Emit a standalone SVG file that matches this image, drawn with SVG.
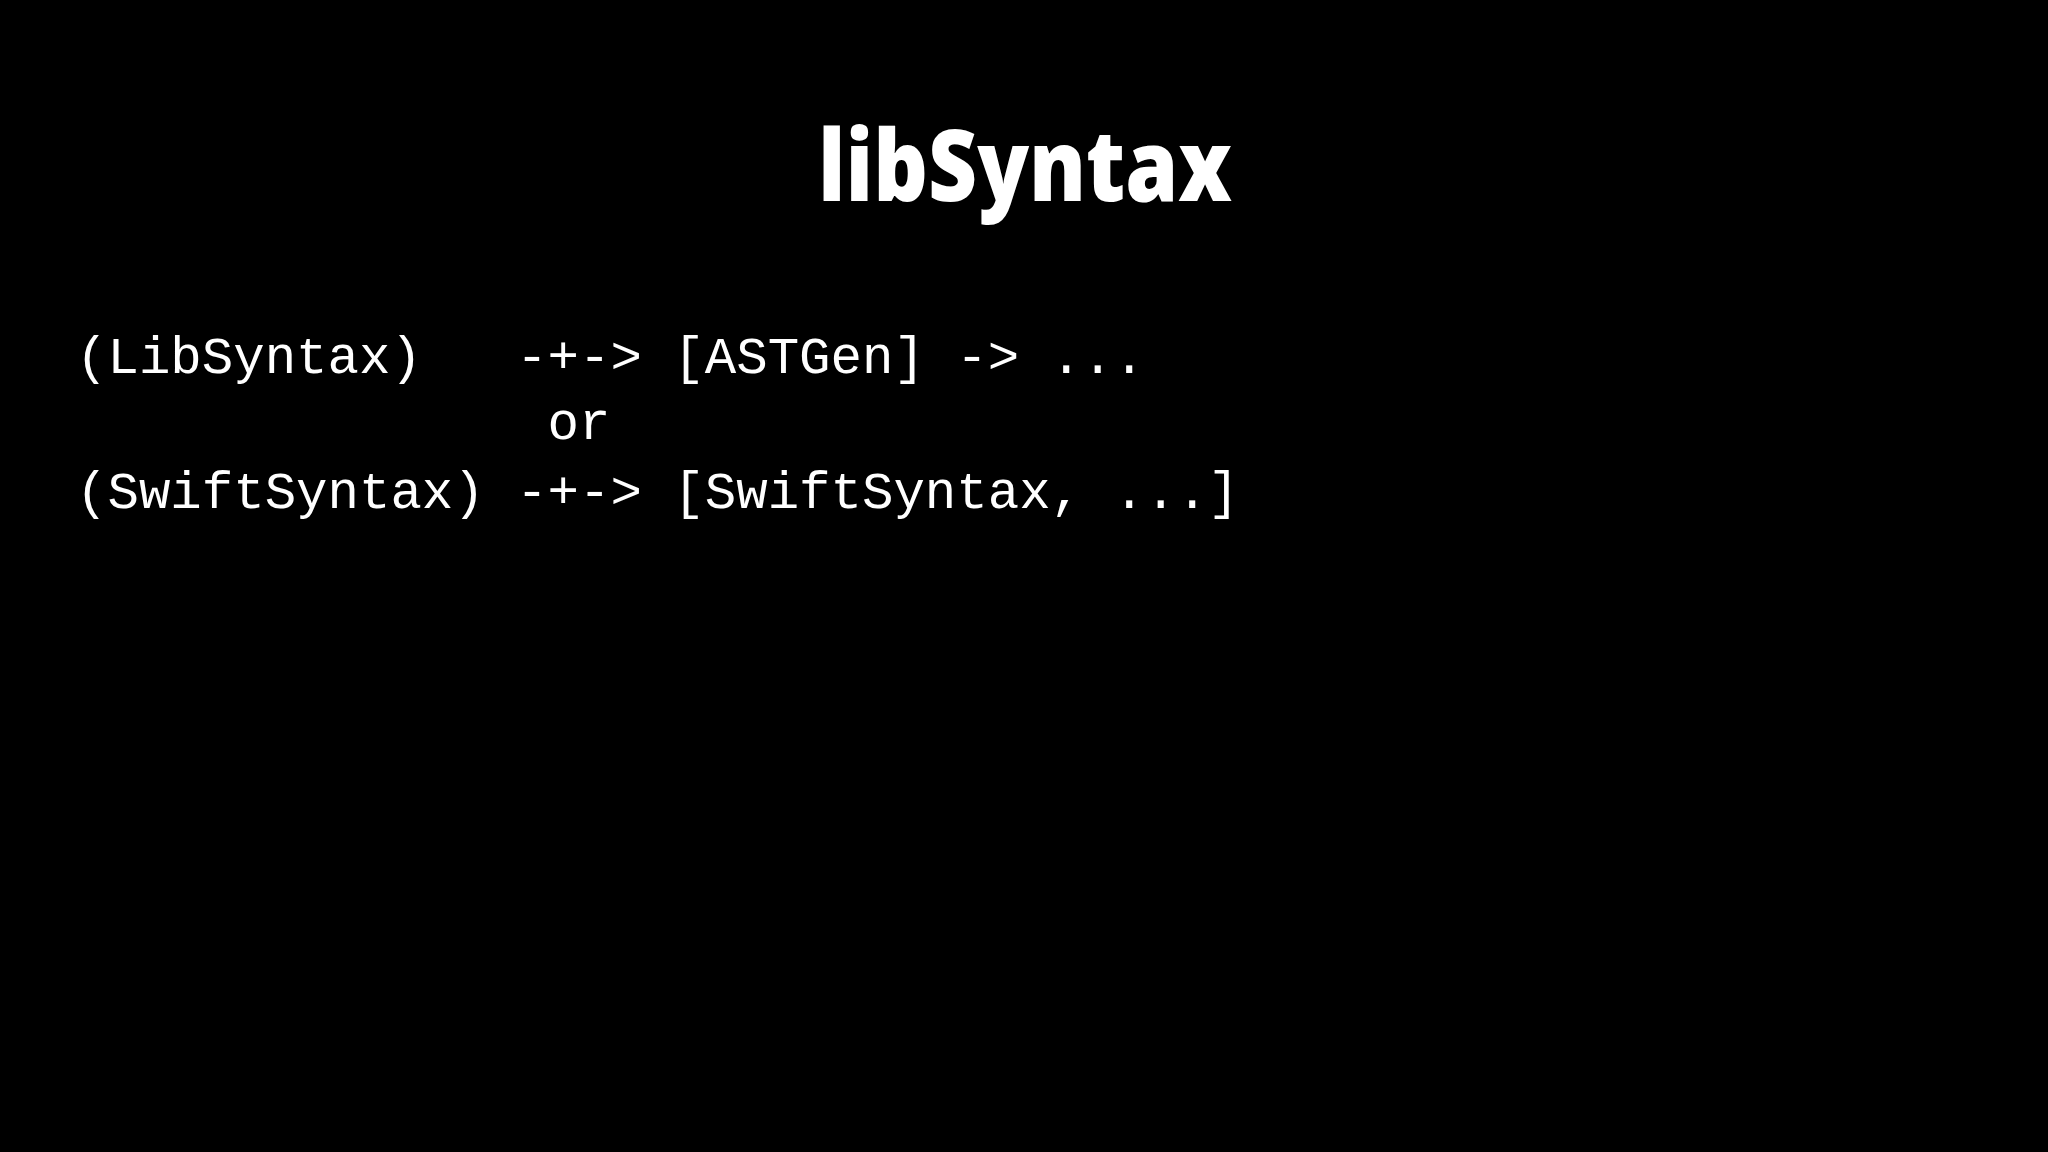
<svg xmlns="http://www.w3.org/2000/svg" width="2048" height="1152" viewBox="0 0 2048 1152">
<style>
.title{font-family:"Open Sans","Noto Sans",sans-serif;font-weight:800;font-size:100px;fill:#fff}
.code{font-family:"Liberation Mono","DejaVu Sans Mono",monospace;font-size:52.4px;fill:#fff;white-space:pre}
</style>
<rect width="2048" height="1152" fill="#000"/>
<g id="title"><text class="title" x="1025" y="201" text-anchor="middle" textLength="414" lengthAdjust="spacingAndGlyphs">libSyntax</text></g>
<g id="code">
<text class="code" x="76" y="373" xml:space="preserve">(LibSyntax)   -+-&gt; [ASTGen] -&gt; ...</text>
<text class="code" x="76" y="439" xml:space="preserve">               or</text>
<text class="code" x="76" y="508" xml:space="preserve">(SwiftSyntax) -+-&gt; [SwiftSyntax, ...]</text>
</g>
</svg>
